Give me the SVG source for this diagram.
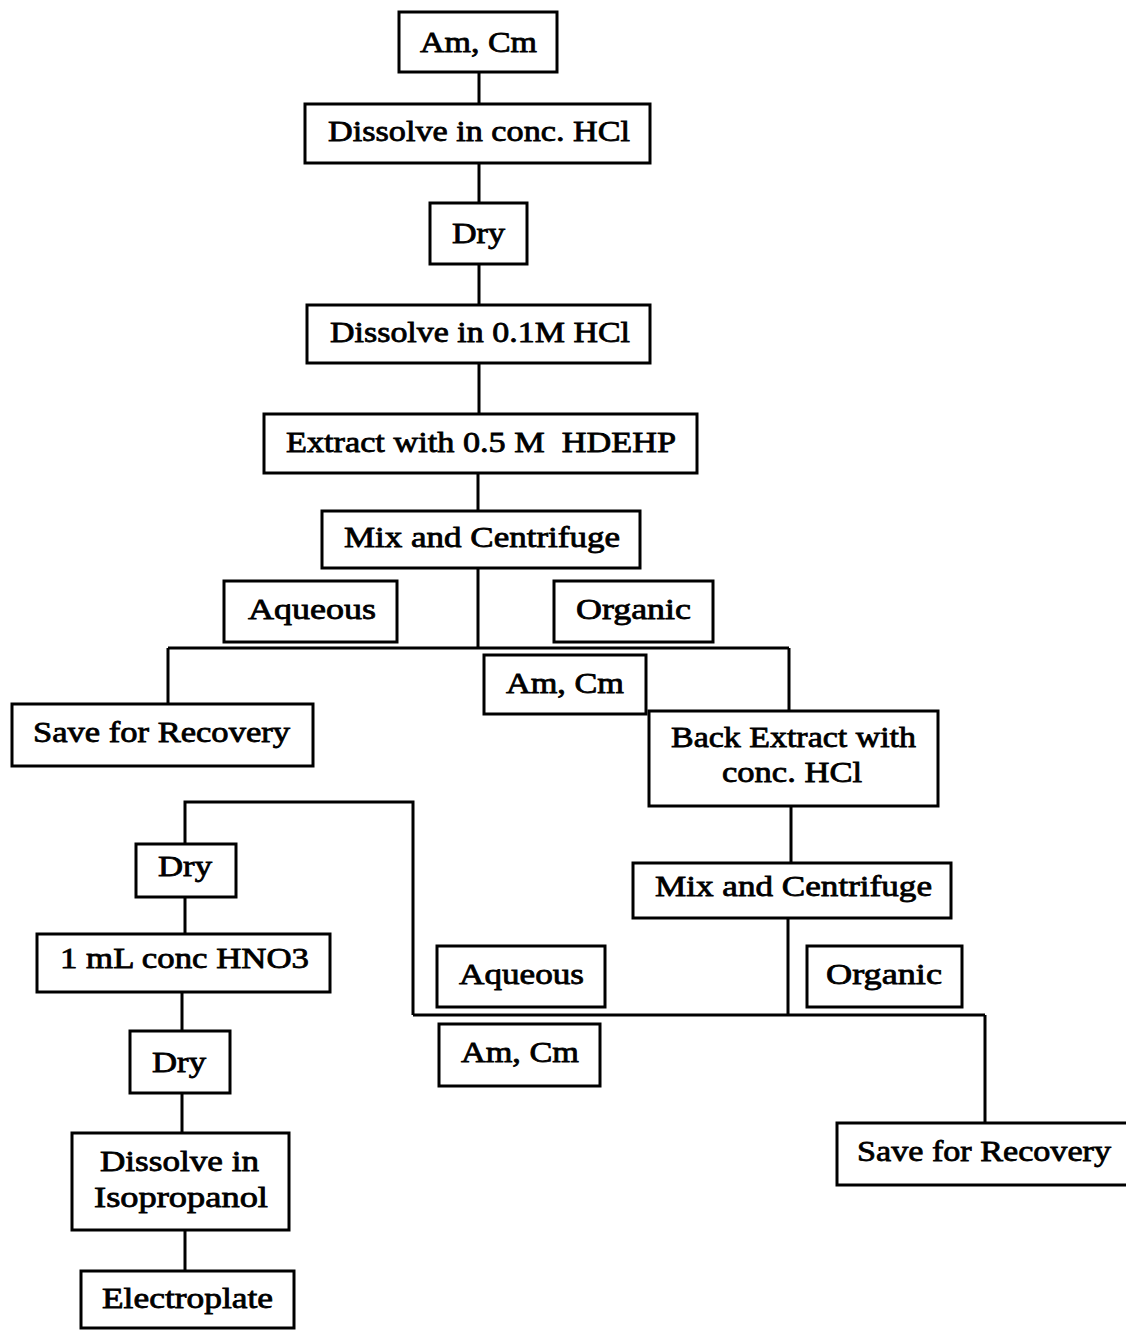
<svg xmlns="http://www.w3.org/2000/svg" width="1126" height="1330" viewBox="0 0 1126 1330">
<style>
.b{fill:#fff;stroke:#000;stroke-width:3}
.t{font-family:"Liberation Serif","DejaVu Serif",serif;font-size:30px;fill:#000;stroke:#000;stroke-width:0.8}
.c{fill:none;stroke:#000;stroke-width:3}
</style>
<rect width="1126" height="1330" fill="#fff"/>
<g id="connectors">
<path class="c" d="M479 72V104M479 163V203M479 264V305M479 363V414M478 473V511"/>
<path class="c" d="M478 568V648M168 648H789M168 648V704M789 648V711"/>
<path class="c" d="M791 806V863M788 918V1015M413 1015H985M985 1015V1123"/>
<path class="c" d="M413 1015V802H185V844M185 897V934M182 992V1031M182 1093V1133M185 1230V1271"/>
</g>
<g id="n1"><rect class="b" x="399" y="12" width="158" height="60"/><text class="t" x="420" y="52" textLength="117" lengthAdjust="spacingAndGlyphs">Am, Cm</text></g>
<g id="n2"><rect class="b" x="305" y="104" width="345" height="59"/><text class="t" x="328" y="141" textLength="302" lengthAdjust="spacingAndGlyphs">Dissolve in conc. HCl</text></g>
<g id="n3"><rect class="b" x="430" y="203" width="97" height="61"/><text class="t" x="452" y="243" textLength="53" lengthAdjust="spacingAndGlyphs">Dry</text></g>
<g id="n4"><rect class="b" x="307" y="305" width="343" height="58"/><text class="t" x="330" y="342" textLength="300" lengthAdjust="spacingAndGlyphs">Dissolve in 0.1M HCl</text></g>
<g id="n5"><rect class="b" x="264" y="414" width="433" height="59"/><text class="t" x="286" y="452" textLength="390" lengthAdjust="spacingAndGlyphs" xml:space="preserve">Extract with 0.5 M  HDEHP</text></g>
<g id="n6"><rect class="b" x="322" y="511" width="318" height="57"/><text class="t" x="344" y="547" textLength="276" lengthAdjust="spacingAndGlyphs">Mix and Centrifuge</text></g>
<g id="n7"><rect class="b" x="224" y="581" width="173" height="61"/><text class="t" x="248" y="619" textLength="128" lengthAdjust="spacingAndGlyphs">Aqueous</text></g>
<g id="n8"><rect class="b" x="554" y="581" width="159" height="61"/><text class="t" x="576" y="619" textLength="115" lengthAdjust="spacingAndGlyphs">Organic</text></g>
<g id="n9"><rect class="b" x="12" y="704" width="301" height="62"/><text class="t" x="33" y="742" textLength="257" lengthAdjust="spacingAndGlyphs">Save for Recovery</text></g>
<g id="n10"><rect class="b" x="484" y="655" width="162" height="59"/><text class="t" x="506" y="693" textLength="118" lengthAdjust="spacingAndGlyphs">Am, Cm</text></g>
<g id="n11"><rect class="b" x="649" y="711" width="289" height="95"/><text class="t" x="671" y="747" textLength="245" lengthAdjust="spacingAndGlyphs">Back Extract with</text><text class="t" x="722" y="782" textLength="140" lengthAdjust="spacingAndGlyphs">conc. HCl</text></g>
<g id="n12"><rect class="b" x="633" y="863" width="318" height="55"/><text class="t" x="655" y="896" textLength="277" lengthAdjust="spacingAndGlyphs">Mix and Centrifuge</text></g>
<g id="n13"><rect class="b" x="807" y="946" width="155" height="61"/><text class="t" x="826" y="984" textLength="116" lengthAdjust="spacingAndGlyphs">Organic</text></g>
<g id="n14"><rect class="b" x="437" y="946" width="168" height="61"/><text class="t" x="459" y="984" textLength="125" lengthAdjust="spacingAndGlyphs">Aqueous</text></g>
<g id="n15"><rect class="b" x="439" y="1024" width="161" height="62"/><text class="t" x="461" y="1062" textLength="118" lengthAdjust="spacingAndGlyphs">Am, Cm</text></g>
<g id="n16"><rect class="b" x="837" y="1123" width="292" height="62"/><text class="t" x="857" y="1161" textLength="254" lengthAdjust="spacingAndGlyphs">Save for Recovery</text></g>
<g id="n17"><rect class="b" x="136" y="844" width="100" height="53"/><text class="t" x="158" y="876" textLength="54" lengthAdjust="spacingAndGlyphs">Dry</text></g>
<g id="n18"><rect class="b" x="37" y="934" width="293" height="58"/><text class="t" x="60" y="968" textLength="249" lengthAdjust="spacingAndGlyphs">1 mL conc HNO3</text></g>
<g id="n19"><rect class="b" x="130" y="1031" width="100" height="62"/><text class="t" x="152" y="1072" textLength="54" lengthAdjust="spacingAndGlyphs">Dry</text></g>
<g id="n20"><rect class="b" x="72" y="1133" width="217" height="97"/><text class="t" x="100" y="1171" textLength="159" lengthAdjust="spacingAndGlyphs">Dissolve in</text><text class="t" x="94" y="1207" textLength="174" lengthAdjust="spacingAndGlyphs">Isopropanol</text></g>
<g id="n21"><rect class="b" x="81" y="1271" width="213" height="57"/><text class="t" x="102" y="1308" textLength="171" lengthAdjust="spacingAndGlyphs">Electroplate</text></g>
</svg>
